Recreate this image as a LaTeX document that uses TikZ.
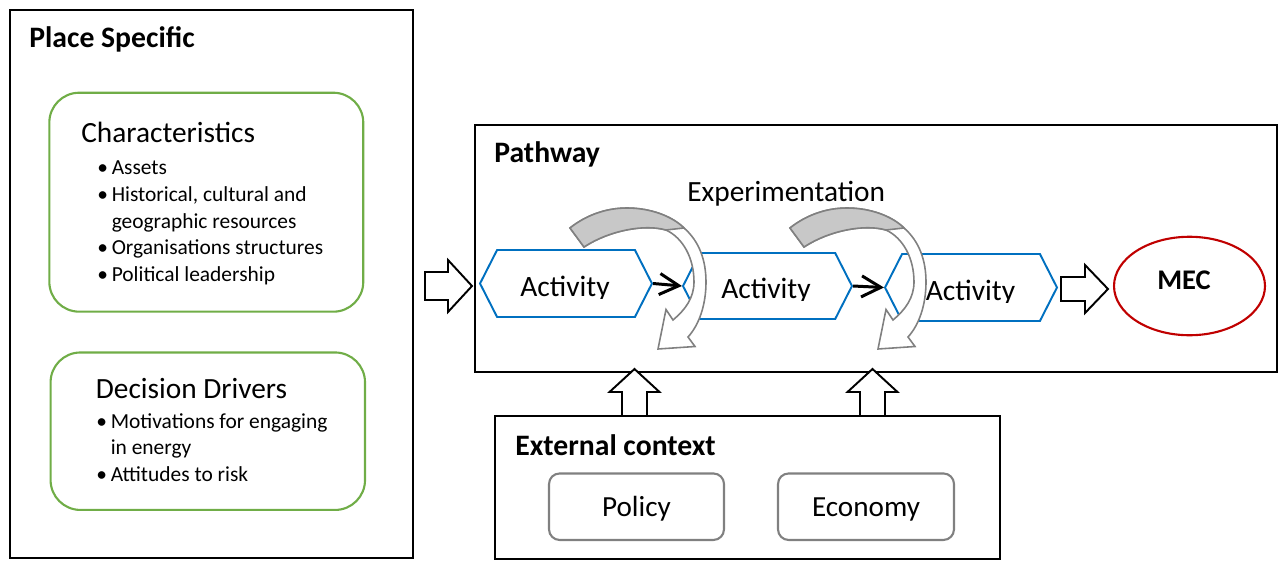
\documentclass[tikz,border=0pt]{standalone}
\usepackage{fontspec}
\setmainfont{Carlito}
\usetikzlibrary{arrows.meta,shapes.symbols,shapes.geometric,positioning}

\definecolor{framegreen}{RGB}{112,173,71}
\definecolor{actblue}{RGB}{0,112,192}
\definecolor{mecred}{RGB}{192,0,0}
\definecolor{boxgray}{RGB}{128,128,128}
\definecolor{curvefill}{RGB}{200,200,200}
\newcommand{\bul}{\makebox[8.2pt][l]{\textbullet}}

\begin{document}
\begin{tikzpicture}[x=0.02cm,y=-0.02cm,
    panel/.style={draw,line width=1.1pt,inner sep=0pt},
    greenbox/.style={draw=framegreen,line width=1.2pt,rounded corners=17pt,inner sep=0pt},
    factorbox/.style={draw=boxgray,line width=1.2pt,rounded corners=6pt,inner sep=0pt,
        text height=13.8pt,text depth=3.2pt,font=\fontsize{16.6}{19}\selectfont},
    activity/.style={signal,signal to=east and west,signal pointer angle=126,
        draw=actblue,line width=1.1pt,inner sep=0pt},
    heading/.style={anchor=base west,inner sep=0pt,font=\bfseries\fontsize{16.9}{20}\selectfont},
    boxtitle/.style={anchor=base west,inner sep=0pt,font=\fontsize{16.7}{20}\selectfont},
    bullettext/.style={anchor=base west,inner sep=0pt,font=\fontsize{12.2}{14.6}\selectfont},
    acttext/.style={anchor=base,inner sep=0pt,font=\fontsize{16.8}{20}\selectfont},
    blockarrow/.style={draw,fill=white,line width=1.1pt},
    smallarrow/.style={-{Straight Barb[length=11pt,width=12pt]},line width=1.7pt},
    loopband/.style={draw=boxgray,line width=0.9pt}]
    \useasboundingbox (0,0) rectangle (1281,561);

    \node[panel,minimum width=8.06cm,minimum height=10.97cm] (place) at (211.5,284.2) {};
    \node[panel,minimum width=16.04cm,minimum height=4.93cm] (pathway) at (876,248.4) {};
    \node[panel,minimum width=10.1cm,minimum height=2.86cm] (external) at (747.5,487.9) {};

    \node[heading] (placetitle) at (29,47.7) {Place Specific};
    \node[heading] (pathwaytitle) at (494,162) {Pathway};
    \node[heading] (externaltitle) at (515,455) {External context};

    \node[greenbox,minimum width=6.28cm,minimum height=4.38cm] (charbox) at (206.3,202.2) {};
    \node[greenbox,minimum width=6.29cm,minimum height=3.15cm] (decbox) at (207.8,431.2) {};
    \node[boxtitle] (chartitle) at (81,142) {Characteristics};
    \node[boxtitle] (dectitle) at (95.5,398.3) {Decision Drivers};
    \foreach \y/\txt [count=\i] in {174.5/{\bul Assets},201.3/{\bul Historical, cultural and},
        228.1/{\hspace*{8.2pt}geographic resources},254.9/{\bul Organisations structures},
        281.7/{\bul Political leadership}}
        \node[bullettext] (charitem\i) at (97,\y) {\txt};
    \foreach \y/\txt [count=\i] in {428/{\bul Motivations for engaging},
        454.5/{\hspace*{8.2pt}in energy},481/{\bul Attitudes to risk}}
        \node[bullettext] (decitem\i) at (96,\y) {\txt};

    \node[anchor=base west,inner sep=0pt,font=\fontsize{16.7}{20}\selectfont] (exptext) at (687,201.7) {Experimentation};

    \node[activity,minimum width=3.44cm,minimum height=1.34cm] (act1) at (566,283.5) {};
    \node[activity,minimum width=3.38cm,minimum height=1.32cm] (act2) at (767.5,286) {};
    \node[activity,minimum width=3.44cm,minimum height=1.34cm] (act3) at (971,287.5) {};
    \foreach \x/\y [count=\i] in {565/296,766/298.3,970.5/300} {
        \begin{scope}
            \clip (\x-60,\y-30) rectangle (\x+60,\y+2);
            \node[acttext] (actlabel\i) at (\x,\y) {Activity};
        \end{scope}
    }
    \draw[smallarrow] (act1.east) -- (act2.west);
    \draw[smallarrow] (act2.east) -- (act3.west);

    \foreach \dx in {0,220} {
        \begin{scope}[shift={(\dx,0)}]
            \draw[loopband,fill=white] (570,228) .. controls (585,216) and (605,208) .. (627,208)
                .. controls (650,208) and (672,216) .. (684,228)
                .. controls (699,241) and (706,260) .. (706,282)
                .. controls (706,305) and (699,325) .. (688,337)
                -- (695,346.5) -- (658,349) -- (666,309.5) -- (673,320)
                .. controls (685,310) and (694,298) .. (694,282)
                .. controls (694,258) and (683,238) .. (666,230)
                .. controls (645,224) and (610,230) .. (584,247) -- cycle;
            \draw[loopband,fill=curvefill] (570,228) .. controls (585,216) and (605,208) .. (627,208)
                .. controls (650,208) and (672,216) .. (684,228)
                -- (666,230)
                .. controls (645,224) and (610,230) .. (584,247) -- cycle;
        \end{scope}
    }

    \node[ellipse,draw=mecred,line width=1.2pt,minimum width=3.02cm,minimum height=1.97cm,inner sep=0pt] (mec) at (1189.5,286) {};
    \node[anchor=base,inner sep=0pt,font=\bfseries\fontsize{16.2}{19}\selectfont] (meclabel) at (1184,289.3) {MEC};

    \draw[blockarrow] (425,272) -- (448,272) -- (448,260) -- (472,286) -- (448,312) -- (448,300) -- (425,300) -- cycle;
    \draw[blockarrow] (1061,277) -- (1085,277) -- (1085,265) -- (1108,289) -- (1085,313) -- (1085,301) -- (1061,301) -- cycle;
    \draw[blockarrow] (622,416) -- (622,392) -- (609.5,392) -- (634.5,369) -- (659.5,392) -- (647,392) -- (647,416) -- cycle;
    \draw[blockarrow] (860,416) -- (860,392) -- (847.5,392) -- (872.5,369) -- (897.5,392) -- (885,392) -- (885,416) -- cycle;

    \node[factorbox,minimum width=3.5cm,minimum height=1.33cm] (policy) at (636.5,506.7) {Policy};
    \node[factorbox,minimum width=3.52cm,minimum height=1.33cm] (economy) at (866,506.7) {Economy};
\end{tikzpicture}
\end{document}
